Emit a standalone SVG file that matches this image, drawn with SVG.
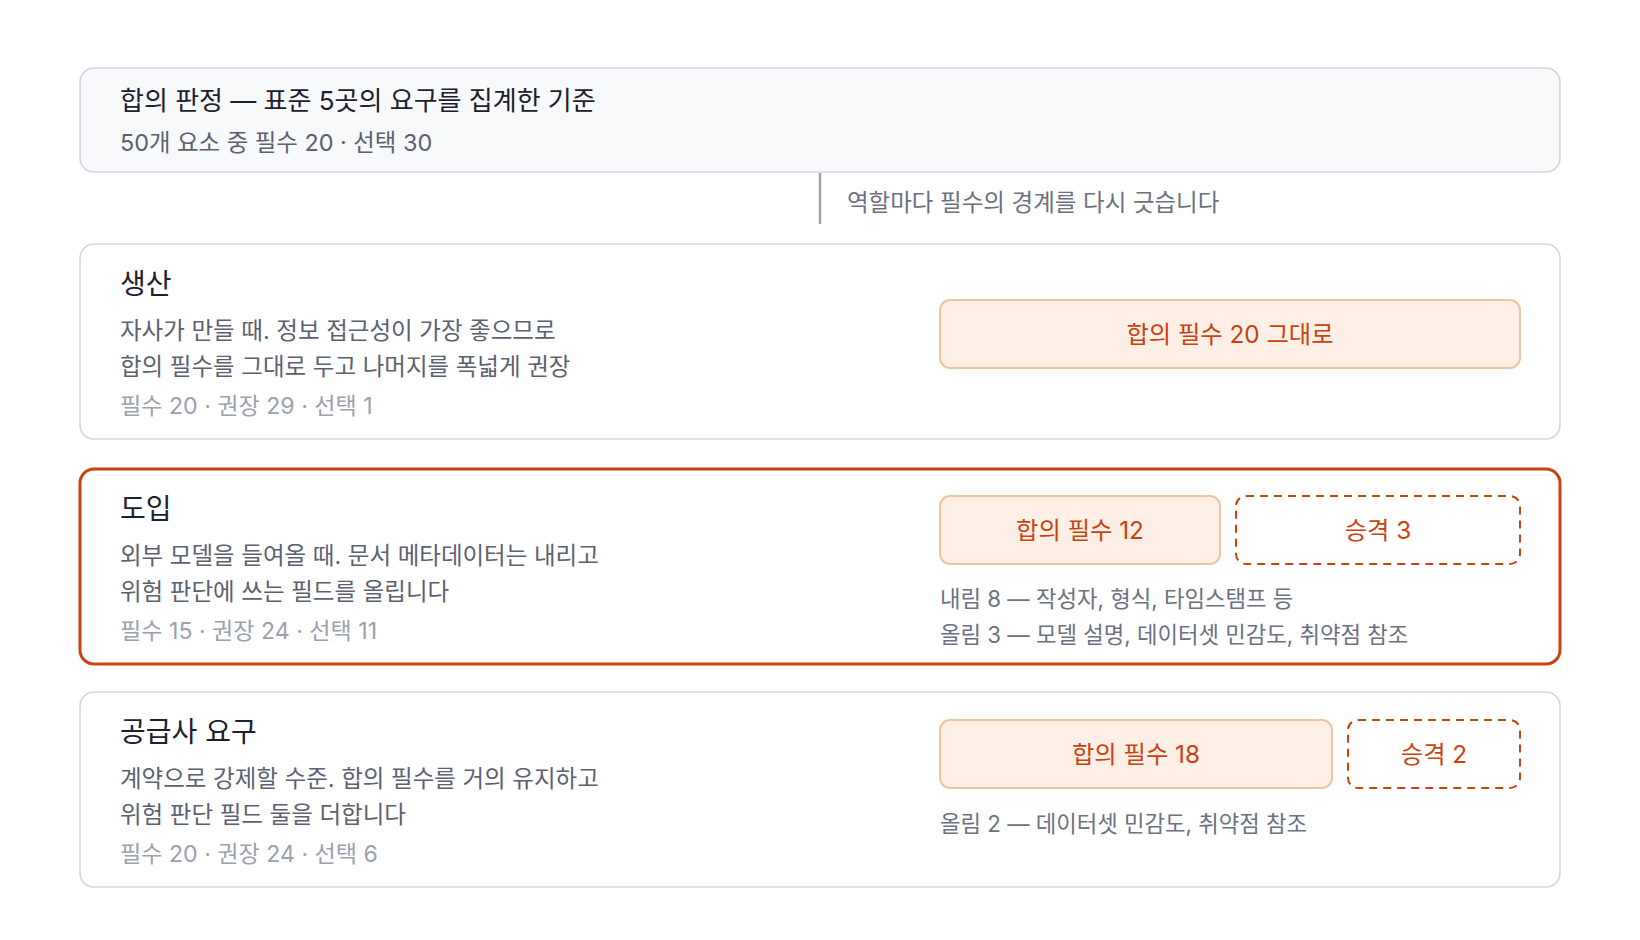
<svg xmlns="http://www.w3.org/2000/svg" width="1640" height="940" viewBox="0 0 1640 940">
<style>
text{font-family:Inter,"Noto Sans CJK KR",sans-serif}
.card{fill:#ffffff;stroke:#d3d7dd;stroke-width:1.6}
.head{fill:#f8f9fb;stroke:#d3d7dd;stroke-width:1.6}
.hot{fill:#ffffff;stroke:#c8430f;stroke-width:3}
.t{font-size:26px;fill:#1c2030}
.ct{font-size:28px;fill:#1c2030}
.d{font-size:23.5px;fill:#5b6170}
.sub{font-size:23.4px;fill:#5b6170}
.s{font-size:23.1px;fill:#9ba1ad}
.a{font-size:23.5px;fill:#6b7180}
.n{font-size:22.3px;fill:#6b7180}
.b{fill:#fdefe6;stroke:#ecc4a6;stroke-width:2}
.dash{fill:none;stroke:#c8430f;stroke-width:2;stroke-dasharray:8 6}
.bt{font-size:24.3px;fill:#c8430f;text-anchor:middle}
</style>
<g id="header">
<rect class="head" x="80" y="68" width="1480" height="104" rx="14"/>
<text class="t" x="120" y="110">합의 판정 — 표준 5곳의 요구를 집계한 기준</text>
<text class="sub" x="120" y="151">50개 요소 중 필수 20 · 선택 30</text>
</g>
<g id="connectors">
<line x1="820" y1="173" x2="820" y2="224" stroke="#9ca3af" stroke-width="2.5"/>
<text class="a" x="847" y="211">역할마다 필수의 경계를 다시 긋습니다</text>
</g>
<g id="production">
<rect class="card" x="80" y="244" width="1480" height="195" rx="14"/>
<text class="ct" x="120" y="294">생산</text>
<text class="d" x="120" y="339">자사가 만들 때. 정보 접근성이 가장 좋으므로</text>
<text class="d" x="120" y="375">합의 필수를 그대로 두고 나머지를 폭넓게 권장</text>
<text class="s" x="120" y="414">필수 20 · 권장 29 · 선택 1</text>
<rect class="b" x="940" y="300" width="580" height="68" rx="10"/>
<text class="bt" x="1230" y="343">합의 필수 20 그대로</text>
</g>
<g id="adoption">
<rect class="hot" x="80" y="469" width="1480" height="195" rx="14"/>
<text class="ct" x="120" y="519">도입</text>
<text class="d" x="120" y="564">외부 모델을 들여올 때. 문서 메타데이터는 내리고</text>
<text class="d" x="120" y="600">위험 판단에 쓰는 필드를 올립니다</text>
<text class="s" x="120" y="639">필수 15 · 권장 24 · 선택 11</text>
<rect class="b" x="940" y="496" width="280" height="68" rx="10"/>
<text class="bt" x="1080" y="539">합의 필수 12</text>
<rect class="dash" x="1236" y="496" width="284" height="68" rx="10"/>
<text class="bt" x="1378" y="539">승격 3</text>
<text class="n" x="940" y="607">내림 8 — 작성자, 형식, 타임스탬프 등</text>
<text class="n" x="940" y="643">올림 3 — 모델 설명, 데이터셋 민감도, 취약점 참조</text>
</g>
<g id="supplier">
<rect class="card" x="80" y="692" width="1480" height="195" rx="14"/>
<text class="ct" x="120" y="742">공급사 요구</text>
<text class="d" x="120" y="787">계약으로 강제할 수준. 합의 필수를 거의 유지하고</text>
<text class="d" x="120" y="823">위험 판단 필드 둘을 더합니다</text>
<text class="s" x="120" y="862">필수 20 · 권장 24 · 선택 6</text>
<rect class="b" x="940" y="720" width="392" height="68" rx="10"/>
<text class="bt" x="1136" y="763">합의 필수 18</text>
<rect class="dash" x="1348" y="720" width="172" height="68" rx="10"/>
<text class="bt" x="1434" y="763">승격 2</text>
<text class="n" x="940" y="832">올림 2 — 데이터셋 민감도, 취약점 참조</text>
</g>
</svg>
